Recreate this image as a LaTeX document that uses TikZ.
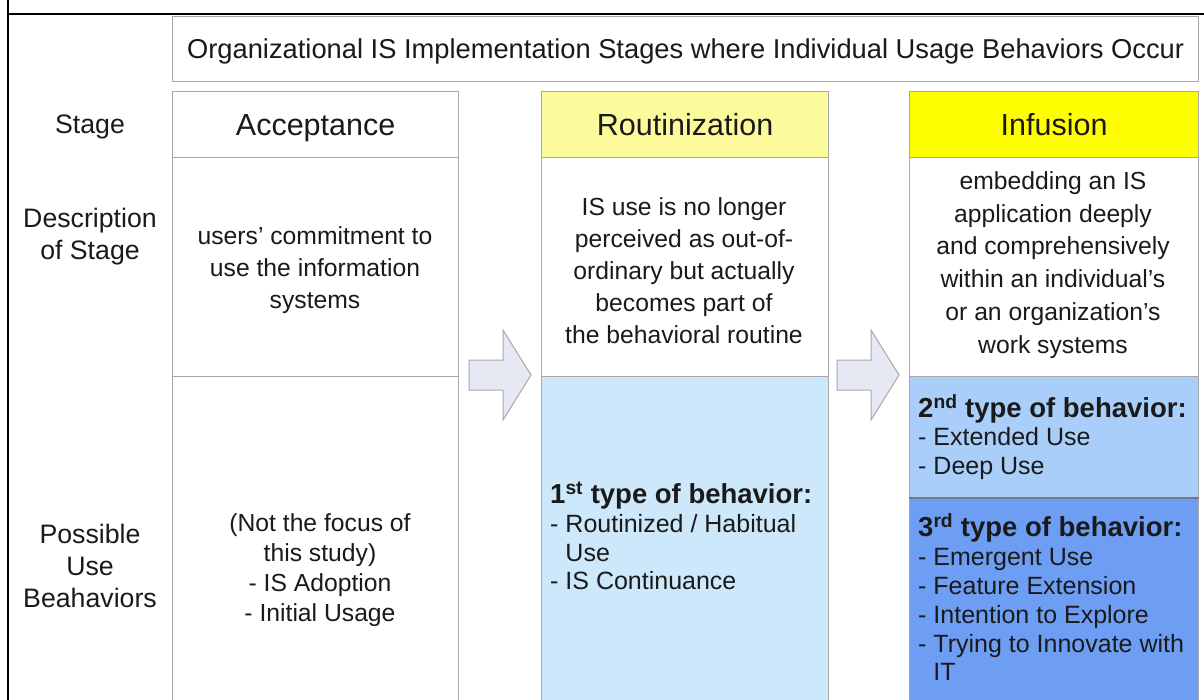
\documentclass[tikz,border=0pt]{standalone}
\usepackage{fontspec}
\setmainfont{Liberation Sans}
\definecolor{bordergray}{HTML}{A8A8A8}
\definecolor{dividergray}{HTML}{6E7A88}
\definecolor{textdark}{HTML}{1A1A1A}
\definecolor{paleyellow}{HTML}{FBFB9C}
\definecolor{brightyellow}{HTML}{FFFF00}
\definecolor{paleblue}{HTML}{CDE8FB}
\definecolor{midblue}{HTML}{A8CEF9}
\definecolor{deepblue}{HTML}{6E9EF3}
\definecolor{arrowfill}{HTML}{E6E9F4}
\newcommand{\bhead}[1]{{\fontsize{27.5}{28.8}\selectfont\bfseries #1}}
\begin{document}
\begin{tikzpicture}[x=1pt,y=-1pt,
  cell/.style={draw=bordergray, line width=1.2pt, inner sep=0pt, anchor=north west},
  hdr/.style={font=\fontsize{30.5}{34}\selectfont, text=textdark, text height=22pt, text depth=0pt},
  txt/.style={font=\fontsize{24.7}{32}\selectfont, text=textdark, inner sep=0pt, align=center},
  lab/.style={font=\fontsize{26.7}{32}\selectfont, text=textdark, inner sep=0pt, align=center},
  btxt/.style={font=\fontsize{25}{28.8}\selectfont, text=textdark, inner sep=0pt, align=left, anchor=west},
  bigarrow/.style={draw=bordergray, line width=1pt, fill=arrowfill, line join=miter}]
\useasboundingbox (0,0) rectangle (1204,700);
\fill[white] (0,0) rectangle (1204,700);

% outer black frame lines
\draw[line width=1.6pt, black] (8,-2) -- (8,702);
\draw[line width=1.6pt, black] (8,14) -- (1206,14);

% title
\node[cell, minimum width=1026, minimum height=65, font=\fontsize{27.3}{30}\selectfont, text=textdark, text height=19.5pt, text depth=0pt] (title) at (172,16)
  {Organizational IS Implementation Stages where Individual Usage Behaviors Occur};

% acceptance column
\node[cell, minimum width=286, minimum height=66, hdr] (accH) at (172,91) {Acceptance};
\node[cell, minimum width=286, minimum height=219] (accD) at (172,157) {};
\node[cell, minimum width=286, minimum height=330] (accB) at (172,376) {};

% routinization column
\node[cell, minimum width=287, minimum height=66, hdr, fill=paleyellow] (rouH) at (541,91) {Routinization};
\node[cell, minimum width=287, minimum height=219] (rouD) at (541,157) {};
\node[cell, minimum width=287, minimum height=330, fill=paleblue] (rouB) at (541,376) {};

% infusion column
\node[cell, minimum width=289, minimum height=66, hdr, fill=brightyellow] (infH) at (909,91) {Infusion};
\node[cell, minimum width=289, minimum height=219] (infD) at (909,157) {};
\node[cell, minimum width=289, minimum height=122, fill=midblue] (inf2) at (909,376) {};
\node[cell, minimum width=289, minimum height=208, fill=deepblue] (inf3) at (909,498) {};
\draw[dividergray, line width=1.2pt] (inf3.north west) -- (inf3.north east);

% arrows
\draw[bigarrow] (469,360) -- (503,360) -- (503,330) -- (531,375) -- (503,420) -- (503,390) -- (469,390) -- cycle;
\draw[bigarrow] (837,360) -- (871,360) -- (871,330) -- (899,375) -- (871,420) -- (871,390) -- (837,390) -- cycle;

% row labels
\node[lab] (lStage) at (90,127) {Stage};
\node[lab] (lDesc) at (90,236.5) {Description\\of Stage};
\node[lab] (lUse) at (90,566) {Possible\\Use\\Beahaviors};

% descriptions
\node[txt] (dAcc) at (315,270) {users’ commitment to\\use the information\\systems};
\node[txt] (dRou) at (684,271) {IS use is no longer\\perceived as out-of-\\ordinary but actually\\becomes part of\\the behavioral routine};
\node[txt, font=\fontsize{24.7}{32.8}\selectfont] (dInf) at (1053,265) {embedding an IS\\application deeply\\and comprehensively\\within an individual’s\\or an organization’s\\work systems};

% behaviors
\node[txt, font=\fontsize{24.7}{30}\selectfont] (bAcc) at (320,570) {(Not the focus of\\this study)\\- IS Adoption\\- Initial Usage};
\node[btxt] (bRou) at (550,536) {\bhead{1\textsuperscript{st} type of behavior:}\\- Routinized / Habitual\\\phantom{- }Use\\- IS Continuance};
\node[btxt] (bInf2) at (918,437) {\bhead{2\textsuperscript{nd} type of behavior:}\\- Extended Use\\- Deep Use};
\node[btxt] (bInf3) at (918,597.5) {\bhead{3\textsuperscript{rd} type of behavior:}\\- Emergent Use\\- Feature Extension\\- Intention to Explore\\- Trying to Innovate with\\\phantom{- }IT};
\end{tikzpicture}
\end{document}
